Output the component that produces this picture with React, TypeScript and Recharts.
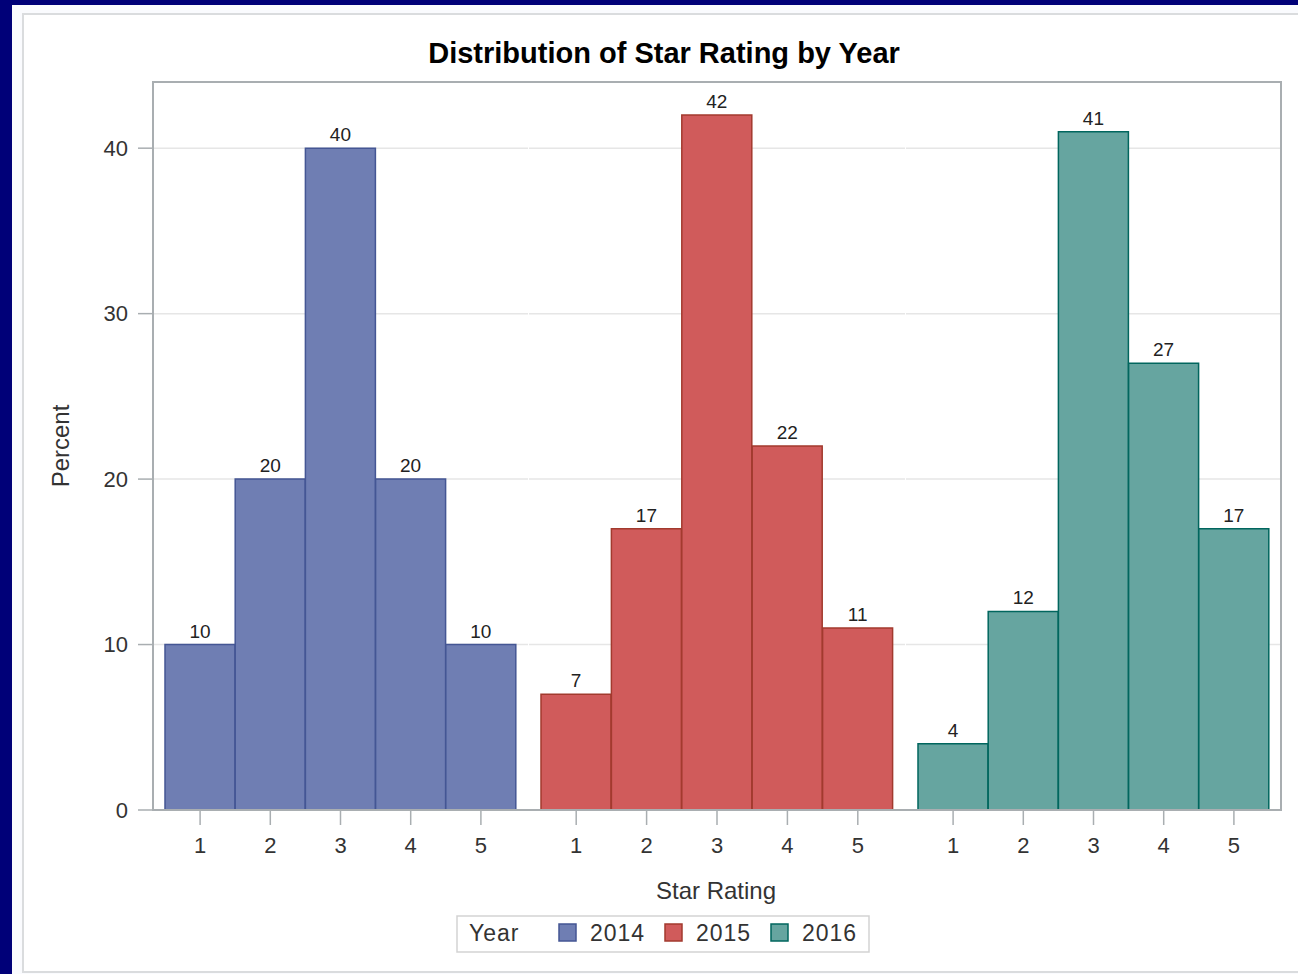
import { BarChart, Bar, XAxis, YAxis, CartesianGrid, LabelList } from "recharts";

// star ratings on the x axis of each year panel
const ratings = ["1", "2", "3", "4", "5"];
const years = ["2014", "2015", "2016"];

// percent of reviews per star rating
const pct2014 = [10, 20, 40, 20, 10];
const pct2015 = [7, 17, 42, 22, 11];
const pct2016 = [4, 12, 41, 27, 17];

const yTicks = [0, 10, 20, 30, 40];

const fills = ["#6F7EB3", "#D05B5B", "#66A5A0"];
const strokes = ["#445694", "#A23A2E", "#01665E"];

const FONT = '"Liberation Sans", Arial, Helvetica, sans-serif';
const GRAY = "#A9AEB1";

const panels = [
  { values: pct2014, left: 0, width: 528, yWidth: 153 },
  { values: pct2015, left: 529, width: 376, yWidth: 0 },
  { values: pct2016, left: 906, width: 375, yWidth: 0 },
];

function Panel({ idx }: { idx: number }) {
  const p = panels[idx];
  const data = ratings.map((r, i) => ({ rating: r, value: p.values[i] }));
  const first = idx === 0;

  return (
    <div style={{ position: "absolute", left: p.left, top: 0 }}>
      <BarChart
        width={p.width}
        height={974}
        data={data}
        margin={{ top: 82, right: 0, bottom: 104, left: 0 }}
        barCategoryGap={0}
        barGap={0}
      >
        <CartesianGrid vertical={false} stroke="#E6E6E6" strokeWidth={1.5} />
        <XAxis
          dataKey="rating"
          height={60}
          interval={0}
          padding={{ left: 12, right: 12 }}
          tickSize={15}
          tickMargin={12}
          axisLine={false}
          tickLine={{ stroke: GRAY, strokeWidth: 1.5 }}
          tick={{ fill: "#333", fontSize: 22, fontFamily: FONT }}
        />
        <YAxis
          width={p.yWidth}
          domain={[0, 44]}
          ticks={yTicks}
          interval={0}
          tickSize={first ? 15 : 0}
          tickMargin={10}
          axisLine={false}
          tickLine={first ? { stroke: GRAY, strokeWidth: 1.5 } : false}
          tick={{ fill: first ? "#333" : "none", fontSize: 22, fontFamily: FONT }}
          label={
            first
              ? {
                  content: ({ viewBox }: any) => {
                    const cx = viewBox.x + 60;
                    const cy = viewBox.y + viewBox.height / 2;
                    return (
                      <text
                        x={cx}
                        y={cy}
                        transform={`rotate(-90 ${cx} ${cy})`}
                        textAnchor="middle"
                        dominantBaseline="central"
                        fill="#333"
                        fontSize={24}
                        fontFamily={FONT}
                      >
                        Percent
                      </text>
                    );
                  },
                }
              : undefined
          }
        />
        <Bar
          dataKey="value"
          fill={fills[idx]}
          stroke={strokes[idx]}
          strokeWidth={1.5}
          isAnimationActive={false}
        >
          <LabelList
            dataKey="value"
            position="top"
            offset={7}
            fill="#222"
            fontSize={19}
            fontFamily={FONT}
          />
        </Bar>
      </BarChart>
    </div>
  );
}

export default function App() {
  return (
    <div
      style={{
        position: "absolute",
        left: 0,
        top: 0,
        width: 1298,
        height: 974,
        overflow: "hidden",
        background: "#000078",
        fontFamily: FONT,
      }}
    >
      <div
        style={{
          position: "absolute",
          left: 12,
          top: 5,
          width: 1300,
          height: 975,
          background: "#FAFBFE",
        }}
      />
      <div
        style={{
          position: "absolute",
          left: 22,
          top: 13,
          width: 1300,
          height: 960,
          boxSizing: "border-box",
          border: "2px solid #DADCDE",
          background: "#fff",
        }}
      />
      {panels.map((_, i) => (
        <Panel key={i} idx={i} />
      ))}
      <svg
        width={1298}
        height={974}
        style={{ position: "absolute", left: 0, top: 0, pointerEvents: "none" }}
      >
        <rect x={153} y={82} width={1128} height={728} fill="none" stroke={GRAY} strokeWidth={2} />
        <text x={664} y={63} textAnchor="middle" fontSize={29} fontWeight="bold" fill="#000" fontFamily={FONT}>
          Distribution of Star Rating by Year
        </text>
        <text x={716} y={899} textAnchor="middle" fontSize={24} fill="#333" fontFamily={FONT}>
          Star Rating
        </text>
        <rect x={457} y={916} width={412} height={36} fill="#fff" stroke="#D3D3D3" strokeWidth={1.5} />
        <text x={469} y={941} fontSize={23} fill="#333" fontFamily={FONT} letterSpacing={1}>
          Year
        </text>
        {years.map((y, i) => {
          const sx = 559 + i * 106;
          return (
            <g key={y}>
              <rect x={sx} y={924} width={17} height={17} fill={fills[i]} stroke={strokes[i]} strokeWidth={1.5} />
              <text x={sx + 31} y={941} fontSize={23} fill="#333" fontFamily={FONT} letterSpacing={1}>
                {y}
              </text>
            </g>
          );
        })}
      </svg>
    </div>
  );
}
